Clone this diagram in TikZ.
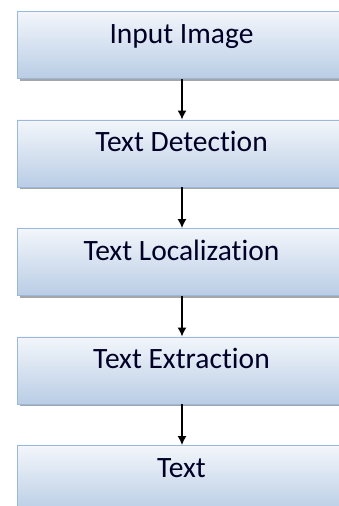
\documentclass[tikz,border=0pt]{standalone}
\usepackage{fontspec}
\setmainfont{Carlito}[Ligatures=NoCommon]
\usetikzlibrary{arrows.meta}
\definecolor{boxtop}{HTML}{F3F6FB}
\definecolor{boxbot}{HTML}{B9CDE5}
\definecolor{boxline}{HTML}{9BB7DB}
\tikzset{
  stepbox/.style={draw=boxline, line width=0.8pt, top color=boxtop, bottom color=boxbot, minimum width=330pt, minimum height=67pt, inner sep=0pt, anchor=north west},
  shadowbox/.style={fill=black!35, draw=none, minimum width=330pt, minimum height=67pt, inner sep=0pt, anchor=north west},
  lbl/.style={font=\fontsize{29.5}{33}\selectfont, anchor=base, text=black!85!blue},
  flow/.style={-{Latex[length=9pt,width=9pt]}, line width=1.3pt, black}
}
\begin{document}
\begin{tikzpicture}[x=1pt,y=-1pt]
\useasboundingbox (0,0) rectangle (339,506);
\clip (0,0) rectangle (339,506);
\foreach \i/\t in {1/Input Image,2/Text Detection,3/Text Localization,4/Text Extraction,5/Text}{
  \pgfmathsetmacro{\yy}{11+(\i-1)*108.5}
  \node[shadowbox] at (19.5,\yy+2.5) {};
  \node[stepbox] (b\i) at (17,\yy) {};
  \node[lbl] (t\i) at (181.5,\yy+32) {\t};
}
\foreach \a/\b in {1/2,2/3,3/4,4/5}{
  \draw[flow] (b\a.south -| 182,0) -- (b\b.north -| 182,0);
}
\end{tikzpicture}
\end{document}
